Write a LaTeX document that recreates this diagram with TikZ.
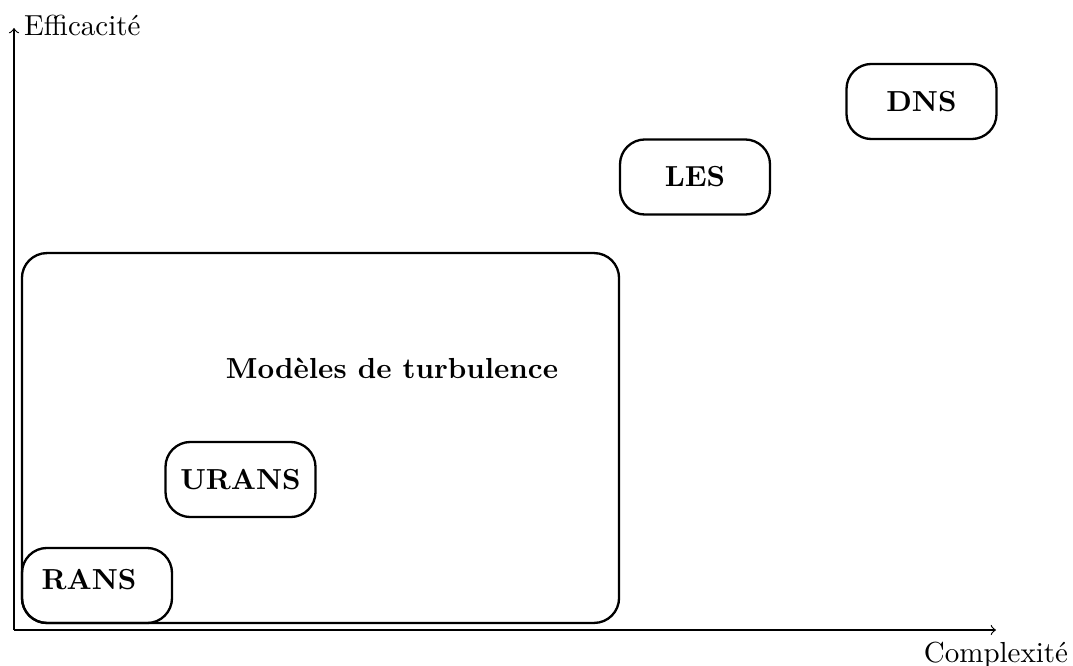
\documentclass[tikz,border=0pt]{standalone}
\begin{document}
\begin{tikzpicture}[x=0.345pt,y=-0.345pt,
  axis/.style={->, line width=0.4pt},
  mbox/.style={draw, line width=0.8pt, rounded corners=8.6pt, minimum width=51.75pt, minimum height=25.9pt, inner sep=0pt, font=\bfseries},
  bigbox/.style={draw, line width=0.8pt, rounded corners=8.6pt, minimum width=206pt, minimum height=127.6pt, inner sep=0pt},
  lbl/.style={inner sep=0pt, font=\bfseries}]
\useasboundingbox (0,0) rectangle (1073,666);
\coordinate (O) at (14,630);
\coordinate (ytop) at (14,28);
\coordinate (xend) at (996,630);
\draw[axis] (O) -- (ytop) node[right, yshift=1pt] (eff) {Efficacité};
\draw[axis] (O) -- (xend) node[below, inner sep=4pt] (comp) {Complexité};
\node[bigbox] (models) at (320.5,438) {};
\node[lbl] (mt) at (392,368) {Modèles de turbulence};
\node[mbox] (rans) at (97,585.5) {};
\node[lbl] (ranslbl) at (89,580) {RANS};
\node[mbox] (urans) at (240.5,479.5) {URANS};
\node[mbox] (les) at (695,177) {LES};
\node[mbox] (dns) at (921.5,101.5) {DNS};
\end{tikzpicture}
\end{document}
